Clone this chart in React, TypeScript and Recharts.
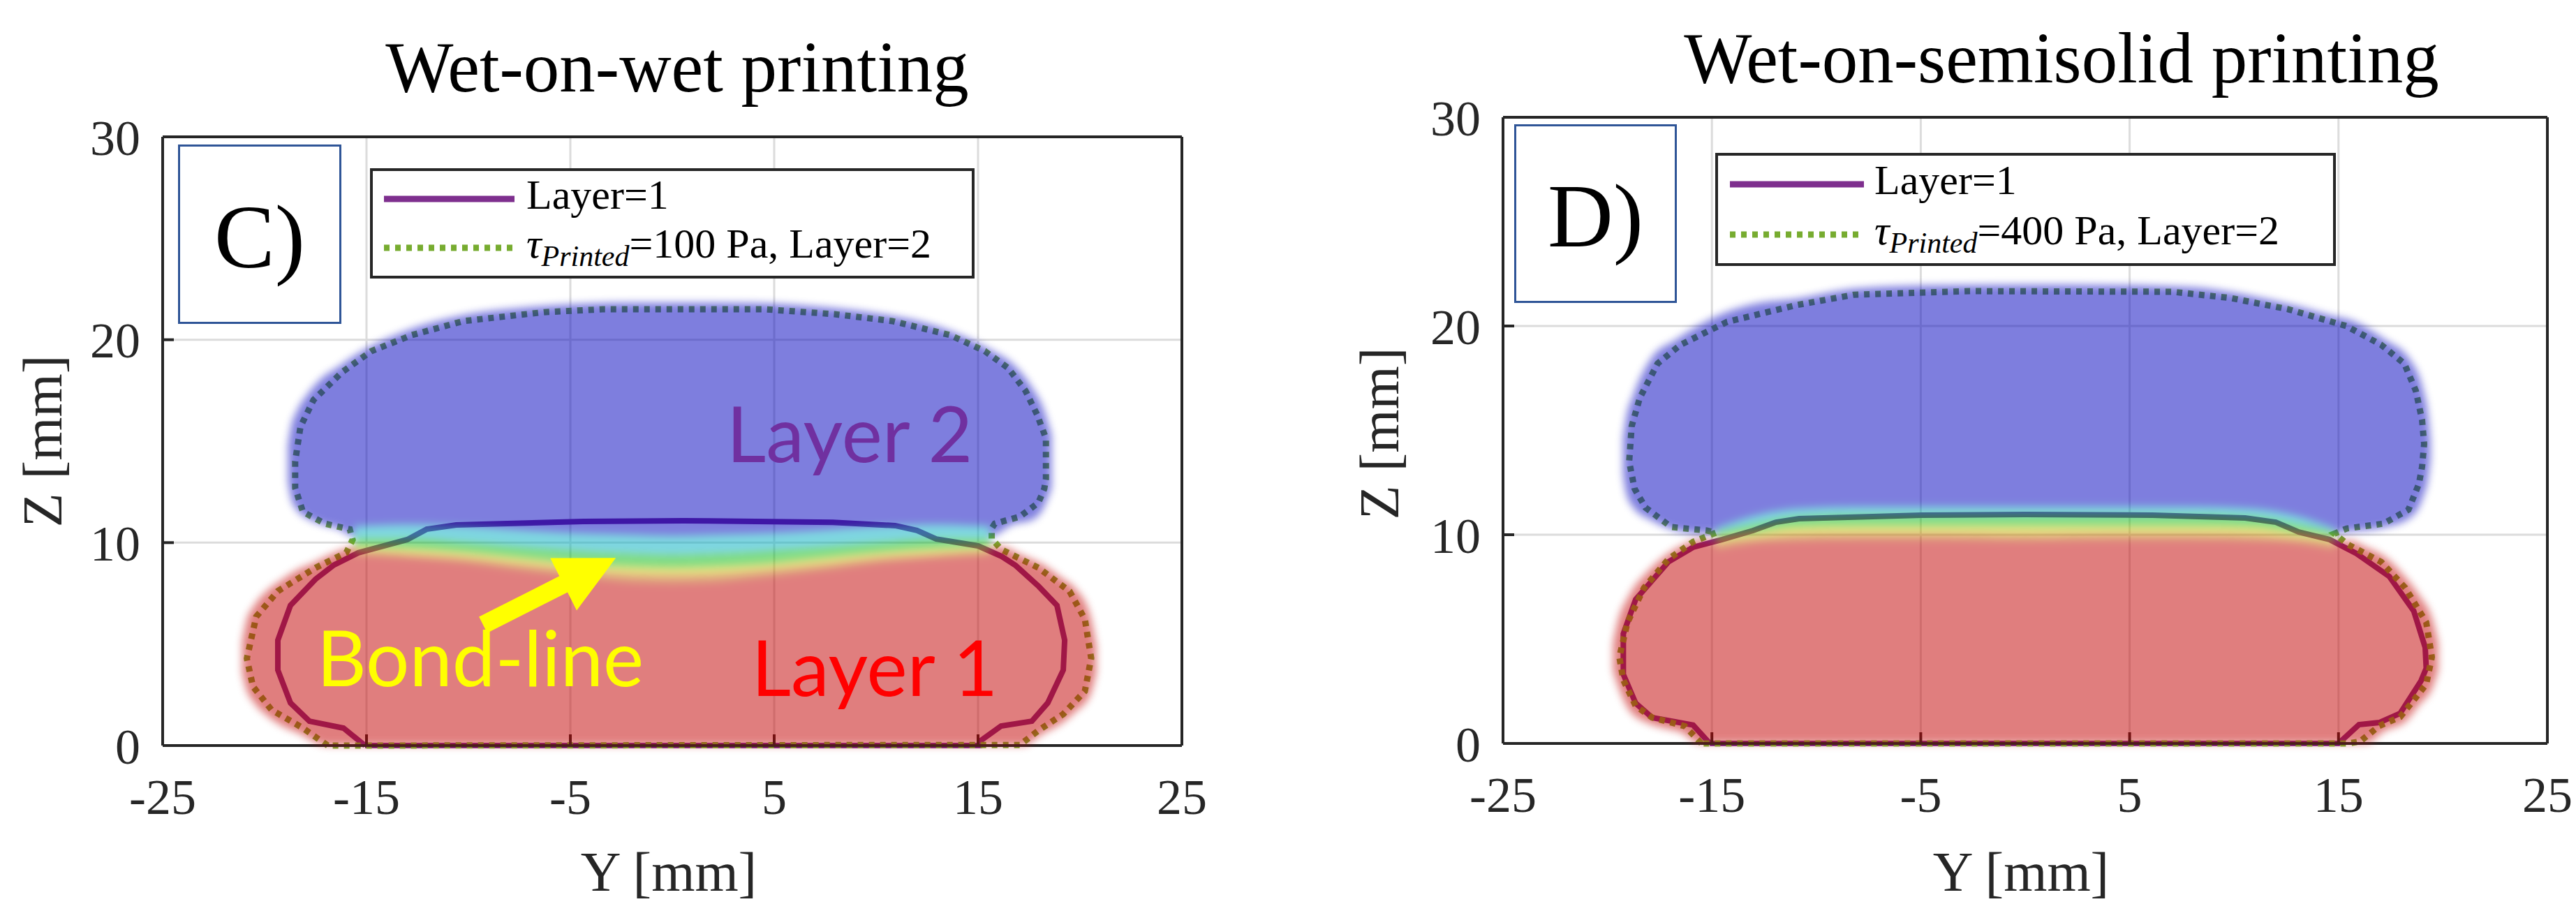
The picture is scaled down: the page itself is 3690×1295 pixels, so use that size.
import type { CSSProperties, ReactNode } from 'react'
import {
  ComposedChart, Line, Area, XAxis, YAxis, CartesianGrid, Legend, ReferenceLine, ReferenceDot,
} from 'recharts'

const SERIF = '"Liberation Serif", "Times New Roman", serif'
const SANS = 'Lato, "Open Sans", sans-serif'
const INK = '#262626'
const PURPLE = '#7E2F8E'
const GREEN = '#77AC30'
const FRAME_BLUE = '#2F5597'

const X_TICKS = [-25, -15, -5, 5, 15, 25]
const Z_TICKS = [0, 10, 20, 30]

// phase-field overlay colours, drawn opaque and the whole layer shown at 50%
const BLUE_FILL = '#0000be'
const RED_FILL = '#c30000'
const BAND_FILLS = ['#c35a00', '#c8c300', '#00b90a', '#00afc3']

type Pt = [number, number]
type Rg = [number, number, number]

// ---- C) wet-on-wet, [Y, Z] in mm ----
const C_LAYER1: Pt[] = [
  [-15.07, 0], [-16.13, 0.86], [-17.8, 1.2], [-18.73, 2.1], [-19.35, 3.72], [-19.35, 5.19],
  [-18.73, 6.91], [-17.5, 8.2], [-16.6, 8.9], [-15.4, 9.5], [-13.0, 10.15], [-12.05, 10.66],
  [-10.6, 10.87], [-4.35, 11.04], [0.55, 11.08], [7.88, 11.0], [10.93, 10.84], [12.0, 10.6],
  [12.95, 10.18], [15.0, 9.84], [16.16, 9.32], [16.85, 8.87], [17.98, 7.84], [18.87, 6.91],
  [19.25, 5.19], [19.18, 3.72], [18.42, 2.1], [17.64, 1.2], [16.13, 0.96], [15.07, 0.2],
  [15.07, 0], [-15.07, 0],
]
const C_OUTLINE: Pt[] = [
  [-16.9, 0], [-18.12, 0.86], [-19.66, 1.76], [-20.57, 2.91], [-20.87, 4.29], [-20.41, 6.35],
  [-19.35, 7.61], [-17.5, 8.76], [-15.99, 9.51], [-15.68, 10.14], [-15.82, 10.66], [-17.05, 10.94],
  [-18.12, 11.52], [-18.5, 12.7], [-18.5, 14.0], [-18.24, 15.71], [-17.6, 17.03], [-16.2, 18.4],
  [-14.76, 19.44], [-12.77, 20.23], [-10.24, 20.92], [-6.27, 21.36], [-3.42, 21.5], [4.54, 21.5],
  [7.95, 21.26], [10.79, 20.92], [13.63, 20.23], [15.33, 19.44], [16.47, 18.61], [17.33, 17.48],
  [17.9, 16.3], [18.33, 15.14], [18.33, 13.15], [18.25, 12.66], [17.96, 11.97], [17.05, 11.28],
  [15.82, 10.94], [15.67, 10.7], [15.67, 10.2], [16.13, 9.67], [17.96, 8.76], [19.49, 7.6],
  [20.24, 6.23], [20.55, 4.3], [20.24, 2.68], [19.18, 1.55], [17.96, 0.74], [17.05, 0.03],
  [-16.9, 0],
]
// overlay image extents (slightly beyond the outline, as the picture's halo)
const C_BLUE: Rg[] = [
  [-18.85, 13.0, 14.8], [-18.7, 12.2, 15.7], [-18.4, 11.6, 16.5], [-17.9, 11.2, 17.3],
  [-17.2, 10.9, 18.1], [-16.4, 10.7, 18.65], [-15.6, 10.3, 19.2], [-13, 10.2, 20.45],
  [-10, 10.0, 21.25], [-7, 9.75, 21.6], [-4, 9.55, 21.78], [-2, 9.45, 21.82], [0, 9.4, 21.82],
  [2, 9.45, 21.82], [4, 9.55, 21.8], [7, 9.75, 21.63], [10, 10.0, 21.3], [13, 10.2, 20.65],
  [15.6, 10.3, 19.5], [16.7, 10.9, 18.8], [17.6, 11.1, 17.7], [18.2, 11.7, 16.6], [18.6, 12.7, 15.3],
]
const C_RED: Rg[] = [
  [-21.1, 3.6, 5.1], [-20.9, 2.8, 6.1], [-20.5, 2.1, 6.9], [-19.9, 1.5, 7.6], [-19.1, 0.95, 8.2],
  [-18.3, 0.6, 8.7], [-17.6, 0.2, 9.0], [-16.9, 0, 9.35], [-16.0, 0, 9.7], [-15.6, 0, 9.8],
  [-13, 0, 9.45], [-10, 0, 9.25], [-7, 0, 8.9], [-4, 0, 8.6], [-2, 0, 8.45], [0, 0, 8.4],
  [2, 0, 8.45], [4, 0, 8.6], [7, 0, 8.9], [10, 0, 9.25], [13, 0, 9.45], [15.6, 0, 9.8],
  [16.13, 0, 9.8], [17.2, 0, 9.35], [18.2, 0.6, 8.9], [19.1, 1.1, 8.25], [19.75, 1.65, 7.75],
  [20.5, 2.5, 6.4], [20.8, 3.6, 4.9],
]
// colour-band edges of the bond line: red|orange|yellow|green|cyan|blue
const C_BAND_X = [-15.6, -13, -10, -7, -4, -2, 0, 2, 4, 7, 10, 13, 15.6]
const C_B0 = [9.4, 9.25, 9.0, 8.6, 8.25, 8.05, 8.0, 8.05, 8.25, 8.6, 9.0, 9.25, 9.4]
const C_B1 = [9.6, 9.45, 9.25, 8.9, 8.6, 8.45, 8.4, 8.45, 8.6, 8.9, 9.25, 9.45, 9.6]
const C_B2 = [9.85, 9.75, 9.55, 9.25, 8.95, 8.85, 8.8, 8.85, 8.95, 9.25, 9.55, 9.75, 9.85]
const C_B3 = [10.2, 10.2, 10.0, 9.75, 9.55, 9.45, 9.4, 9.45, 9.55, 9.75, 10.0, 10.2, 10.2]
const C_B4 = [10.8, 10.9, 10.8, 10.6, 10.45, 10.4, 10.35, 10.4, 10.45, 10.6, 10.8, 10.9, 10.8]
const C_NOTES = [
  { text: 'Layer 2', x: 8.7, z: 15.3, color: '#7030A0' },
  { text: 'Layer 1', x: 9.93, z: 3.78, color: '#FF0000' },
  { text: 'Bond-line', x: -9.42, z: 4.27, color: '#FFFF00' },
]
const C_ARROW = [{ x: -9.28, y: 5.95 }, { x: -2.77, y: 9.25 }]

// ---- D) wet-on-semisolid ----
const D_LAYER1: Pt[] = [
  [-15.1, 0], [-15.9, 0.88], [-17.86, 1.24], [-18.65, 1.93], [-19.24, 3.31], [-19.24, 5.25],
  [-18.65, 6.9], [-17.08, 8.7], [-15.9, 9.4], [-14.5, 9.77], [-13.03, 10.2], [-11.93, 10.6],
  [-10.83, 10.77], [-4.95, 10.94], [0, 10.97], [6.1, 10.94], [10.53, 10.8], [12.0, 10.6],
  [13.1, 10.13], [14.57, 9.77], [15.86, 9.1], [17.43, 8.0], [18.6, 6.35], [19.15, 4.6],
  [19.2, 3.6], [18.95, 3.0], [17.95, 1.44], [16.95, 1.0], [15.98, 0.9], [15.0, 0], [-15.1, 0],
]
const D_OUTLINE: Pt[] = [
  [-15.5, 0], [-16.3, 0.83], [-17.86, 1.24], [-18.65, 1.8], [-19.24, 3.04], [-19.43, 4.14],
  [-19.04, 5.8], [-18.25, 7.45], [-17.08, 8.83], [-15.9, 9.66], [-14.8, 10.1], [-15.24, 10.2],
  [-16.95, 10.37], [-18.18, 11.3], [-18.7, 12.2], [-18.96, 13.5], [-18.84, 15.2], [-18.45, 16.56],
  [-17.6, 18.2], [-16.5, 19.1], [-14.27, 20.2], [-10.96, 21.0], [-8.19, 21.5], [-2.64, 21.67],
  [7.05, 21.64], [9.83, 21.34], [12.6, 20.8], [15.37, 20.0], [17.04, 19.1], [18.15, 18.2],
  [18.7, 16.9], [19.0, 15.5], [19.1, 14.35], [19.0, 13.25], [18.85, 12.44], [18.35, 11.2],
  [17.15, 10.53], [15.4, 10.3], [14.8, 10.05], [15.47, 9.52], [17.04, 8.7], [18.2, 7.45],
  [19.2, 5.8], [19.47, 4.14], [19.2, 2.84], [18.6, 2.07], [17.95, 1.27], [16.95, 0.84],
  [16.04, 0.1], [15.47, 0], [-15.5, 0],
]
const D_BLUE: Rg[] = [
  [-19.25, 12.9, 14.6], [-19.1, 12.0, 15.6], [-18.75, 11.3, 16.7], [-17.9, 10.7, 18.45],
  [-16.7, 10.2, 19.35], [-15.4, 10.05, 20.15], [-14.8, 10.1, 20.45], [-13, 10.5, 21.05],
  [-11, 10.85, 21.3], [-8, 10.95, 21.8], [-4, 10.95, 21.95], [0, 10.95, 21.97], [4, 10.95, 21.96],
  [8, 10.95, 21.85], [11, 10.85, 21.4], [13, 10.5, 20.95], [14.8, 10.1, 20.45], [15.5, 10.15, 20.3],
  [17.2, 10.35, 19.35], [18.4, 10.8, 18.4], [19.0, 11.7, 17.1], [19.3, 12.8, 15.6], [19.4, 13.6, 14.5],
]
const D_RED: Rg[] = [
  [-19.73, 3.5, 4.8], [-19.54, 2.9, 5.7], [-18.95, 1.6, 7.1], [-18.1, 1.0, 8.2],
  [-17.15, 0.7, 9.05], [-16.5, 0.55, 9.45], [-15.6, 0, 9.75], [-14.8, 0, 9.7], [-13, 0, 9.85],
  [-11, 0, 10.0], [-8, 0, 10.05], [-4, 0, 10.05], [0, 0, 10.0], [4, 0, 10.05], [8, 0, 10.05],
  [11, 0, 10.0], [13, 0, 9.85], [14.8, 0, 9.7], [15.6, 0, 9.7], [16.3, 0, 9.4],
  [17.2, 0.6, 8.95], [18.2, 1.05, 7.95], [18.85, 1.85, 7.1], [19.5, 2.7, 5.9], [19.77, 3.5, 4.8],
]
const D_BAND_X = [-14.8, -13, -11, -8, -4, 0, 4, 8, 11, 13, 14.8]
const D_B0 = [9.3, 9.6, 9.7, 9.75, 9.75, 9.7, 9.75, 9.75, 9.7, 9.6, 9.3]
const D_B1 = [9.6, 9.85, 10.0, 10.05, 10.05, 10.0, 10.05, 10.05, 10.0, 9.85, 9.6]
const D_B2 = [9.9, 10.15, 10.4, 10.45, 10.45, 10.45, 10.45, 10.45, 10.4, 10.15, 9.9]
const D_B3 = [10.1, 10.5, 10.85, 10.95, 10.95, 10.95, 10.95, 10.95, 10.85, 10.5, 10.1]
const D_B4 = [10.3, 10.9, 11.25, 11.35, 11.35, 11.35, 11.35, 11.35, 11.25, 10.9, 10.3]

const toPts = (a: Pt[]) => a.map(([x, z]) => ({ x, z }))
const toRange = (a: Rg[]) => a.map(([x, lo, hi]) => ({ x, r: [lo, hi] }))
const toBands = (xs: number[], edges: number[][]) =>
  edges.slice(0, -1).map((lo, k) => xs.map((x, i) => ({ x, r: [lo[i], edges[k + 1][i]] })))

function Arrow(props: any) {
  const { x1, y1, x2, y2 } = props
  if (![x1, y1, x2, y2].every((v) => Number.isFinite(v))) return null
  const len = Math.hypot(x2 - x1, y2 - y1)
  const ux = (x2 - x1) / len
  const uy = (y2 - y1) / len
  const nx = -uy
  const ny = ux
  const head = 84, hw = 42, sw = 13
  const bx = x2 - ux * head
  const by = y2 - uy * head
  const pts = [
    [x1 + nx * sw, y1 + ny * sw], [bx + nx * sw, by + ny * sw], [bx + nx * hw, by + ny * hw], [x2, y2],
    [bx - nx * hw, by - ny * hw], [bx - nx * sw, by - ny * sw], [x1 - nx * sw, y1 - ny * sw],
  ]
  return <polygon points={pts.map((p) => p.join(',')).join(' ')} fill="#FFFF00" />
}

function LegendBox({ pa, iconX, textX, rows }: { pa: number; iconX: [number, number]; textX: number; rows: [number, number] }) {
  const txt: CSSProperties = { position: 'absolute', left: textX, fontSize: 60, lineHeight: '60px', whiteSpace: 'nowrap', fontFamily: SERIF }
  return (
    <div style={{ boxSizing: 'border-box', width: '100%', height: '100%', border: `4px solid ${INK}`, background: '#fff', position: 'relative', fontFamily: SERIF, color: '#000' }}>
      <svg width={iconX[1] + 10} height={150} style={{ position: 'absolute', left: 0, top: 0 }}>
        <line x1={iconX[0]} x2={iconX[1]} y1={rows[0] - 4} y2={rows[0] - 4} stroke={PURPLE} strokeWidth={9} />
        <line x1={iconX[0]} x2={iconX[1]} y1={rows[1] - 4} y2={rows[1] - 4} stroke={GREEN} strokeWidth={9} strokeDasharray="8 8" />
      </svg>
      <div style={{ ...txt, top: rows[0] - 40 }}>Layer=1</div>
      <div style={{ ...txt, top: rows[1] - 40 }}>
        <span style={{ fontStyle: 'italic' }}>τ</span>
        <span style={{ fontStyle: 'italic', fontSize: 42, position: 'relative', top: 12 }}>Printed</span>
        ={pa} Pa, Layer=2
      </div>
    </div>
  )
}

interface PanelCfg {
  left: number
  width: number
  plot: { l: number; t: number; r: number; b: number }
  title: string
  titleX: number
  titleTop: number
  tag: string
  tagBox: [number, number, number, number]
  tagTop: number
  pa: number
  legendBox: [number, number, number, number]
  iconX: [number, number]
  textX: number
  rows: [number, number]
  zTitle: [number, number]
  yTitle: [number, number]
  layer1: Pt[]
  outline: Pt[]
  blue: Rg[]
  red: Rg[]
  bandX: number[]
  bandEdges: number[][]
  notes?: ReactNode
}

const H = 1295

function Panel({ cfg }: { cfg: PanelCfg }) {
  const { width, plot } = cfg
  const framed = { left: plot.l - 120, right: plot.r - 20, top: plot.t - 20, bottom: plot.b - 100 }
  const bare = { left: plot.l, right: plot.r, top: plot.t, bottom: plot.b }
  const layer: CSSProperties = { position: 'absolute', left: 0, top: 0 }
  const axisStyle = { stroke: INK, strokeWidth: 4 }
  const tickFont = { fill: INK, fontSize: 72, fontFamily: SERIF }
  const bands = toBands(cfg.bandX, cfg.bandEdges)
  const outlinePts = toPts(cfg.outline)
  const [lx, ly, lw, lh] = cfg.legendBox
  const [tx, ty, tw, th] = cfg.tagBox

  return (
    <div style={{ position: 'absolute', left: cfg.left, top: 0, width, height: H }}>
      <div style={{ ...layer, left: cfg.titleX - 700, top: cfg.titleTop, width: 1400, textAlign: 'center', fontFamily: SERIF, fontSize: 103, lineHeight: '103px', color: '#000', whiteSpace: 'nowrap' }}>
        {cfg.title}
      </div>

      <div style={layer}>
        <ComposedChart width={width} height={H} margin={framed}>
          <CartesianGrid stroke="#dcdcdc" strokeWidth={3} />
          <XAxis
            type="number" dataKey="x" domain={[-25, 25]} ticks={X_TICKS} interval={0} height={100}
            axisLine={axisStyle} tickLine={axisStyle} tickSize={-16} tickMargin={63} tick={tickFont}
            label={() => (
              <text x={cfg.yTitle[0]} y={cfg.yTitle[1]} textAnchor="middle" fontFamily={SERIF} fontSize={80} fill={INK}>Y [mm]</text>
            )}
          />
          <XAxis
            xAxisId="top" orientation="top" type="number" domain={[-25, 25]} ticks={X_TICKS} interval={0}
            height={20} axisLine={axisStyle} tickLine={axisStyle} tickSize={-16} tick={false}
          />
          <YAxis
            type="number" domain={[0, 30]} ticks={Z_TICKS} interval={0} width={120}
            axisLine={axisStyle} tickLine={axisStyle} tickSize={-16} tickMargin={48} tick={tickFont}
            label={() => (
              <text x={cfg.zTitle[0]} y={cfg.zTitle[1]} transform={`rotate(-90 ${cfg.zTitle[0]} ${cfg.zTitle[1]})`} textAnchor="middle" fontFamily={SERIF} fontSize={80} fill={INK}>Z [mm]</text>
            )}
          />
          <YAxis
            yAxisId="right" orientation="right" type="number" domain={[0, 30]} ticks={Z_TICKS} interval={0}
            width={20} axisLine={axisStyle} tickLine={axisStyle} tickSize={-16} tick={false}
          />
          <Line data={toPts(cfg.layer1)} dataKey="z" name="Layer=1" type="linear" stroke={PURPLE} strokeWidth={8} dot={false} isAnimationActive={false} />
          <Line data={outlinePts} dataKey="z" name="Layer=2" type="linear" stroke={GREEN} strokeWidth={9} strokeDasharray="8 8" dot={false} isAnimationActive={false} />
          <Legend
            layout="vertical" align="center" verticalAlign="middle"
            wrapperStyle={{ left: lx, top: ly, width: lw, height: lh }}
            content={() => <LegendBox pa={cfg.pa} iconX={cfg.iconX} textX={cfg.textX} rows={cfg.rows} />}
          />
        </ComposedChart>
      </div>

      <div style={{ ...layer, opacity: 0.5, filter: 'blur(6px)' }}>
        <ComposedChart width={width} height={H} margin={bare}>
          <XAxis type="number" dataKey="x" domain={[-25, 25]} hide />
          <YAxis type="number" domain={[0, 30]} hide />
          <Area data={toRange(cfg.blue)} dataKey="r" type="monotone" stroke="none" fill={BLUE_FILL} fillOpacity={1} isAnimationActive={false} />
          <Area data={toRange(cfg.red)} dataKey="r" type="monotone" stroke="none" fill={RED_FILL} fillOpacity={1} isAnimationActive={false} />
          {bands.map((b, i) => (
            <Area key={i} data={b} dataKey="r" type="monotone" stroke="none" fill={BAND_FILLS[i]} fillOpacity={1} isAnimationActive={false} />
          ))}
        </ComposedChart>
      </div>

      {cfg.notes && (
        <div style={layer}>
          <ComposedChart width={width} height={H} margin={bare}>
            <XAxis type="number" dataKey="x" domain={[-25, 25]} hide />
            <YAxis type="number" domain={[0, 30]} hide />
            {/* carries the axes for the annotations, not drawn */}
            <Line data={outlinePts} dataKey="z" stroke="none" strokeWidth={0} dot={false} activeDot={false} legendType="none" isAnimationActive={false} />
            {cfg.notes}
          </ComposedChart>
        </div>
      )}

      <div style={{ ...layer, left: tx, top: ty, width: tw, height: th, boxSizing: 'border-box', border: `3px solid ${FRAME_BLUE}`, background: '#fff' }}>
        <div style={{ position: 'absolute', left: 0, right: 0, top: cfg.tagTop, textAlign: 'center', fontFamily: SERIF, fontSize: 130, lineHeight: '130px', color: '#000' }}>
          {cfg.tag}
        </div>
      </div>
    </div>
  )
}

const C_NOTE_MARKS = [
  <ReferenceLine key="arrow" segment={C_ARROW} shape={Arrow} ifOverflow="visible" />,
  ...C_NOTES.map((n) => (
    <ReferenceDot
      key={n.text} x={n.x} y={n.z} r={1} fill="none" stroke="none" ifOverflow="visible"
      label={{ value: n.text, position: 'center', fill: n.color, fontSize: 110, fontFamily: SANS }}
    />
  )),
]

const PANEL_C: PanelCfg = {
  left: 0, width: 1800, plot: { l: 233, t: 196, r: 107, b: 227 },
  title: 'Wet-on-wet printing', titleX: 970, titleTop: 45,
  tag: 'C)', tagBox: [255, 207, 234, 257], tagTop: 64,
  pa: 100, legendBox: [530, 241, 866, 158], iconX: [16, 203], textX: 220, rows: [44, 114],
  zTitle: [88, 632], yTitle: [958, 1276],
  layer1: C_LAYER1, outline: C_OUTLINE, blue: C_BLUE, red: C_RED,
  bandX: C_BAND_X, bandEdges: [C_B0, C_B1, C_B2, C_B3, C_B4],
  notes: C_NOTE_MARKS,
}

const PANEL_D: PanelCfg = {
  left: 1850, width: 1840, plot: { l: 303, t: 168, r: 41, b: 230 },
  title: 'Wet-on-semisolid printing', titleX: 1103, titleTop: 32,
  tag: 'D)', tagBox: [319, 178, 233, 256], tagTop: 63,
  pa: 400, legendBox: [607, 219, 889, 162], iconX: [17, 209], textX: 224, rows: [45, 117],
  zTitle: [153, 621], yTitle: [1045, 1276],
  layer1: D_LAYER1, outline: D_OUTLINE, blue: D_BLUE, red: D_RED,
  bandX: D_BAND_X, bandEdges: [D_B0, D_B1, D_B2, D_B3, D_B4],
}

export default function App() {
  return (
    <div style={{ position: 'absolute', left: 0, top: 0, width: 3690, height: H, background: '#fff', overflow: 'hidden' }}>
      <Panel cfg={PANEL_C} />
      <Panel cfg={PANEL_D} />
    </div>
  )
}
